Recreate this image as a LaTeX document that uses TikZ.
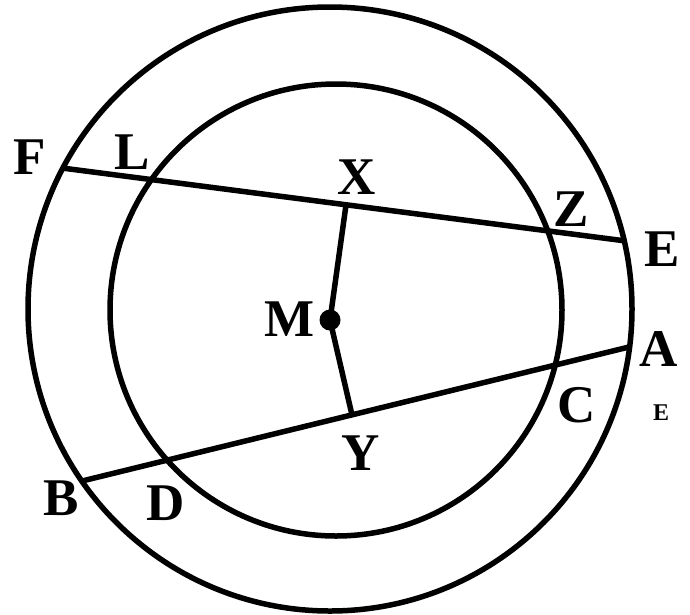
\documentclass[tikz,border=0pt]{standalone}
\usepackage{fontspec}
\setmainfont{Liberation Serif}
\begin{document}
\begin{tikzpicture}[x=1pt,y=-1pt,line width=5.5pt,
  ring/.style={circle,draw,inner sep=0pt},
  lbl/.style={font=\fontsize{53}{53}\selectfont\bfseries,inner sep=0pt,anchor=center},
  smalllbl/.style={font=\fontsize{24}{24}\selectfont\bfseries,inner sep=0pt,anchor=center},
  dotnode/.style={circle,fill,inner sep=0pt,minimum size=21pt}]
\useasboundingbox (0,0) rectangle (690,614);
% circles
\node[ring,minimum size=604pt] (outer) at (330,309) {};
\node[ring,minimum size=452pt] (inner) at (336,310) {};
% points
\coordinate (F) at (62,168);
\coordinate (E) at (626,241);
\coordinate (B) at (82,481);
\coordinate (A) at (629,347);
\coordinate (X) at (346,205);
\coordinate (Y) at (352,415);
\coordinate (M) at (330,320);
% chords
\draw (F) -- (E);
\draw (B) -- (A);
\draw (X) -- (M) -- (Y);
\node[dotnode] (Mdot) at (M) {};
% labels
\node[lbl] (lF) at (30,157) {F};
\node[lbl] (lL) at (132,152) {L};
\node[lbl] (lX) at (357,177) {X};
\node[lbl] (lZ) at (571,209) {Z};
\node[lbl] (lE) at (662,249) {E};
\node[lbl] (lM) at (290,319) {M};
\node[lbl] (lA) at (659,349) {A};
\node[lbl] (lC) at (577,405) {C};
\node[smalllbl] (lE2) at (661,413) {E};
\node[lbl] (lY) at (361,453) {Y};
\node[lbl] (lB) at (61,498) {B};
\node[lbl] (lD) at (166,503) {D};
\end{tikzpicture}
\end{document}
